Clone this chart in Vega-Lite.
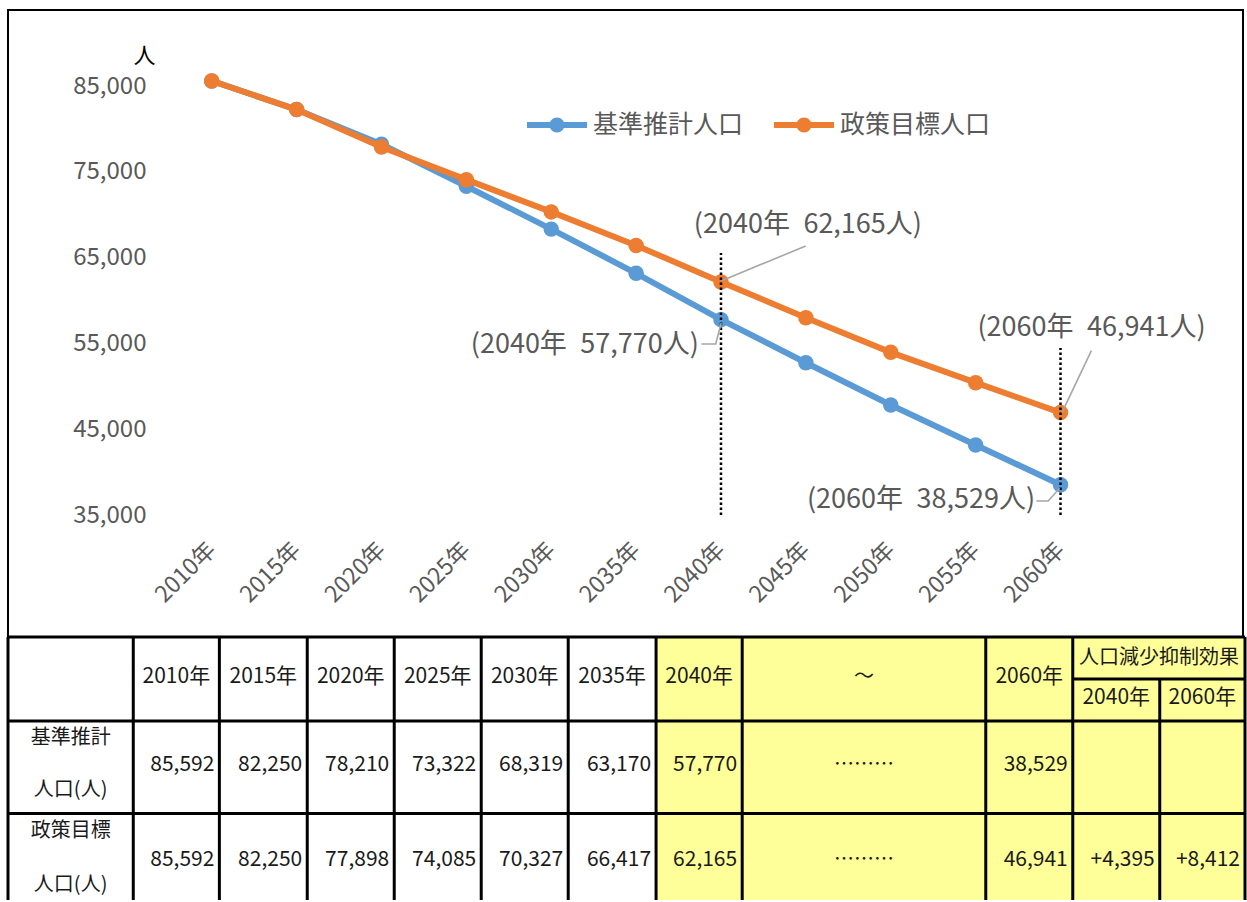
{
  "$schema": "https://vega.github.io/schema/vega-lite/v6.json",
  "padding": {"left": 6, "top": 9, "right": 0, "bottom": 0},
  "background": "white",
  "spacing": 0,
  "bounds": "flush",
  "config": {
    "font": "Noto Sans CJK JP",
    "view": {"stroke": null},
    "axis": {"labelFont": "Noto Sans CJK JP", "titleFont": "Noto Sans CJK JP"},
    "legend": {"labelFont": "Noto Sans CJK JP"}
  },
  "datasets": {
    "pop": [
      {"year": 2010, "series": "基準推計人口", "value": 85592},
      {"year": 2015, "series": "基準推計人口", "value": 82250},
      {"year": 2020, "series": "基準推計人口", "value": 78210},
      {"year": 2025, "series": "基準推計人口", "value": 73322},
      {"year": 2030, "series": "基準推計人口", "value": 68319},
      {"year": 2035, "series": "基準推計人口", "value": 63170},
      {"year": 2040, "series": "基準推計人口", "value": 57770},
      {"year": 2045, "series": "基準推計人口", "value": 52750},
      {"year": 2050, "series": "基準推計人口", "value": 47820},
      {"year": 2055, "series": "基準推計人口", "value": 43160},
      {"year": 2060, "series": "基準推計人口", "value": 38529},
      {"year": 2010, "series": "政策目標人口", "value": 85592},
      {"year": 2015, "series": "政策目標人口", "value": 82250},
      {"year": 2020, "series": "政策目標人口", "value": 77898},
      {"year": 2025, "series": "政策目標人口", "value": 74085},
      {"year": 2030, "series": "政策目標人口", "value": 70327},
      {"year": 2035, "series": "政策目標人口", "value": 66417},
      {"year": 2040, "series": "政策目標人口", "value": 62165},
      {"year": 2045, "series": "政策目標人口", "value": 58000},
      {"year": 2050, "series": "政策目標人口", "value": 53960},
      {"year": 2055, "series": "政策目標人口", "value": 50420},
      {"year": 2060, "series": "政策目標人口", "value": 46941}
    ],
    "grid": [
      {"value": 35000}, {"value": 45000}, {"value": 55000},
      {"value": 65000}, {"value": 75000}, {"value": 85000}
    ],
    "drop": [
      {"year": 2040, "value": 35000, "top": 65536},
      {"year": 2060, "value": 35000, "top": 54464}
    ],
    "leader": [
      {"id": "a", "year": 2044.99, "value": 66352},
      {"id": "a", "year": 2040.04, "value": 62308},
      {"id": "b", "year": 2038.85, "value": 54930},
      {"id": "b", "year": 2039.69, "value": 54930},
      {"id": "b", "year": 2040.01, "value": 57378},
      {"id": "c", "year": 2061.82, "value": 54149},
      {"id": "c", "year": 2060.09, "value": 46970},
      {"id": "d", "year": 2058.58, "value": 36632},
      {"id": "d", "year": 2059.27, "value": 36632},
      {"id": "d", "year": 2059.95, "value": 38112}
    ],
    "annL": [
      {"year": 2038.4, "value": 68800, "t": "(2040年\u200262,165人)"},
      {"year": 2055.11, "value": 56795, "t": "(2060年\u200246,941人)"}
    ],
    "annR": [
      {"year": 2038.7, "value": 54814, "t": "(2040年\u200257,770人)"},
      {"year": 2058.5, "value": 36716, "t": "(2060年\u200238,529人)"}
    ],
    "yellow": [{"x": 7.45, "x2": 14.22, "y": 0, "y2": 3.13}],
    "hlines": [
      {"y": 0, "x": 0, "x2": 14.22},
      {"y": 0.5, "x": 12.24, "x2": 14.22},
      {"y": 1, "x": 0, "x2": 14.22},
      {"y": 2.1, "x": 0, "x2": 14.22}
    ],
    "vlines": [
      {"x": 0, "y": 0, "y2": 3.13},
      {"x": 1.44, "y": 0, "y2": 3.13},
      {"x": 2.43, "y": 0, "y2": 3.13},
      {"x": 3.44, "y": 0, "y2": 3.13},
      {"x": 4.44, "y": 0, "y2": 3.13},
      {"x": 5.44, "y": 0, "y2": 3.13},
      {"x": 6.44, "y": 0, "y2": 3.13},
      {"x": 7.45, "y": 0, "y2": 3.13},
      {"x": 8.44, "y": 0, "y2": 3.13},
      {"x": 11.24, "y": 0, "y2": 3.13},
      {"x": 12.24, "y": 0, "y2": 3.13},
      {"x": 13.24, "y": 0.5, "y2": 3.13},
      {"x": 14.22, "y": 0, "y2": 3.13}
    ],
    "tHead": [
      {"x": 1.935, "y": 0.48, "t": "2010年"},
      {"x": 2.935, "y": 0.48, "t": "2015年"},
      {"x": 3.94, "y": 0.48, "t": "2020年"},
      {"x": 4.94, "y": 0.48, "t": "2025年"},
      {"x": 5.94, "y": 0.48, "t": "2030年"},
      {"x": 6.945, "y": 0.48, "t": "2035年"},
      {"x": 7.945, "y": 0.48, "t": "2040年"},
      {"x": 11.74, "y": 0.48, "t": "2060年"},
      {"x": 12.74, "y": 0.73, "t": "2040年"},
      {"x": 13.73, "y": 0.73, "t": "2060年"}
    ],
    "tCjk": [
      {"x": 0.72, "y": 1.2, "t": "基準推計"},
      {"x": 0.72, "y": 1.82, "t": "人口(人)"},
      {"x": 0.72, "y": 2.31, "t": "政策目標"},
      {"x": 0.72, "y": 2.95, "t": "人口(人)"},
      {"x": 13.23, "y": 0.25, "t": "人口減少抑制効果"},
      {"x": 9.84, "y": 0.48, "t": "～"},
      {"x": 9.84, "y": 1.52, "t": "………"},
      {"x": 9.84, "y": 2.65, "t": "………"}
    ],
    "tNum": [
      {"x": 2.43, "y": 1.52, "t": "85,592"},
      {"x": 3.44, "y": 1.52, "t": "82,250"},
      {"x": 4.44, "y": 1.52, "t": "78,210"},
      {"x": 5.44, "y": 1.52, "t": "73,322"},
      {"x": 6.44, "y": 1.52, "t": "68,319"},
      {"x": 7.45, "y": 1.52, "t": "63,170"},
      {"x": 8.44, "y": 1.52, "t": "57,770"},
      {"x": 12.24, "y": 1.52, "t": "38,529"},
      {"x": 2.43, "y": 2.65, "t": "85,592"},
      {"x": 3.44, "y": 2.65, "t": "82,250"},
      {"x": 4.44, "y": 2.65, "t": "77,898"},
      {"x": 5.44, "y": 2.65, "t": "74,085"},
      {"x": 6.44, "y": 2.65, "t": "70,327"},
      {"x": 7.45, "y": 2.65, "t": "66,417"},
      {"x": 8.44, "y": 2.65, "t": "62,165"},
      {"x": 12.24, "y": 2.65, "t": "46,941"},
      {"x": 13.24, "y": 2.65, "t": "+4,395"},
      {"x": 14.22, "y": 2.65, "t": "+8,412"}
    ]
  },
  "vconcat": [
    {
      "width": 1235,
      "height": 627,
      "view": {"stroke": "#000000", "strokeWidth": 2, "fill": "white"},
      "encoding": {
        "x": {
          "field": "year", "type": "quantitative",
          "scale": {"domain": [1998, 2070.75], "nice": false, "zero": false},
          "axis": {
            "orient": "bottom", "offset": -122,
            "values": [2010, 2015, 2020, 2025, 2030, 2035, 2040, 2045, 2050, 2055, 2060],
            "labelExpr": "datum.value + '年'",
            "labelAngle": -45, "labelAlign": "right", "labelBaseline": "middle",
            "labelPadding": 31, "labelFontSize": 23, "labelColor": "#595959",
            "domain": false, "ticks": false, "grid": false, "title": null,
            "labelOverlap": false, "labelFlush": false, "labelBound": false
          }
        },
        "y": {
          "field": "value", "type": "quantitative",
          "scale": {"domain": [20781, 93858], "nice": false, "zero": false},
          "axis": {
            "orient": "left", "offset": -138,
            "values": [35000, 45000, 55000, 65000, 75000, 85000],
            "format": ",d", "labelFontSize": 24, "labelColor": "#595959",
            "labelPadding": 0, "ticks": false, "domain": false, "grid": false,
            "title": "人", "titleAngle": 0, "titleX": -2, "titleY": 45,
            "titleAlign": "center", "titleBaseline": "middle", "titleFontSize": 22,
            "titleFontWeight": "normal", "titleColor": "#000000",
            "labelOverlap": false, "labelFlush": false
          }
        },
        "color": {
          "field": "series", "type": "nominal",
          "scale": {"domain": ["基準推計人口", "政策目標人口"], "range": ["#5B9BD5", "#ED7D31"]},
          "legend": {
            "orient": "none", "legendX": 519, "legendY": 85, "direction": "horizontal",
            "title": null,
            "symbolType": "M-1,-0.1L1,-0.1L1,0.1L-1,0.1Z M-0.25,0A0.25,0.25 0 1,1 0.25,0A0.25,0.25 0 1,1 -0.25,0Z",
            "symbolSize": 3600, "symbolStrokeWidth": 0, "symbolOpacity": 1,
            "labelFontSize": 25, "labelColor": "#595959", "labelOffset": 6,
            "columnPadding": 30, "padding": 0, "labelLimit": 400,
            "encode": {
              "symbols": {
                "update": {
                  "fill": {"scale": "color", "field": "value"},
                  "stroke": {"value": "transparent"},
                  "opacity": {"value": 1},
                  "fillOpacity": {"value": 1}
                }
              }
            }
          }
        }
      },
      "layer": [
        {
          "data": {"name": "grid"},
          "mark": {"type": "rule", "color": "#d9d9d9", "strokeWidth": 2},
          "encoding": {"x": {"datum": 2007.5}, "x2": {"datum": 2062.5}, "color": {"value": "#d9d9d9"}}
        },
        {
          "data": {"name": "pop"},
          "transform": [{"filter": "datum.series === '基準推計人口'"}],
          "mark": {"type": "point", "filled": true, "size": 240, "opacity": 1}
        },
        {
          "data": {"name": "pop"},
          "transform": [{"filter": "datum.series === '基準推計人口'"}],
          "mark": {"type": "line", "strokeWidth": 6}
        },
        {
          "data": {"name": "pop"},
          "transform": [{"filter": "datum.series === '政策目標人口'"}],
          "mark": {"type": "point", "filled": true, "size": 240, "opacity": 1}
        },
        {
          "data": {"name": "pop"},
          "transform": [{"filter": "datum.series === '政策目標人口'"}],
          "mark": {"type": "line", "strokeWidth": 6}
        },
        {
          "data": {"name": "drop"},
          "mark": {"type": "rule", "color": "#000000", "strokeWidth": 2.5, "strokeDash": [2.5, 2.5]},
          "encoding": {"y2": {"field": "top"}, "color": {"value": "#000000"}}
        },
        {
          "data": {"name": "leader"},
          "mark": {"type": "line", "color": "#a6a6a6", "strokeWidth": 1.6},
          "encoding": {"detail": {"field": "id"}, "color": {"value": "#a6a6a6"}}
        },
        {
          "data": {"name": "annL"},
          "mark": {"type": "text", "align": "left", "baseline": "middle", "fontSize": 27, "color": "#595959"},
          "encoding": {"text": {"field": "t"}, "color": {"value": "#595959"}}
        },
        {
          "data": {"name": "annR"},
          "mark": {"type": "text", "align": "right", "baseline": "middle", "fontSize": 27, "color": "#595959"},
          "encoding": {"text": {"field": "t"}, "color": {"value": "#595959"}}
        }
      ]
    },
    {
      "width": 1237,
      "height": 263,
      "view": {"stroke": null},
      "encoding": {
        "x": {"field": "x", "type": "quantitative", "scale": {"domain": [0, 14.22], "nice": false, "zero": false}, "axis": null},
        "y": {"field": "y", "type": "quantitative", "scale": {"domain": [0, 3.13], "nice": false, "zero": false, "reverse": true}, "axis": null}
      },
      "layer": [
        {
          "data": {"name": "yellow"},
          "mark": {"type": "rect", "color": "#FFFF99", "opacity": 1},
          "encoding": {"x2": {"field": "x2"}, "y2": {"field": "y2"}}
        },
        {
          "data": {"name": "hlines"},
          "mark": {"type": "rule", "color": "#000000", "strokeWidth": 3},
          "encoding": {"x2": {"field": "x2"}}
        },
        {
          "data": {"name": "vlines"},
          "mark": {"type": "rule", "color": "#000000", "strokeWidth": 3},
          "encoding": {"y2": {"field": "y2"}}
        },
        {
          "data": {"name": "tHead"},
          "mark": {"type": "text", "align": "center", "baseline": "middle", "fontSize": 21, "font": "Noto Sans CJK JP", "color": "#1a1a1a"},
          "encoding": {"text": {"field": "t"}}
        },
        {
          "data": {"name": "tCjk"},
          "mark": {"type": "text", "align": "center", "baseline": "middle", "fontSize": 20, "font": "Noto Sans CJK JP", "color": "#1a1a1a"},
          "encoding": {"text": {"field": "t"}}
        },
        {
          "data": {"name": "tNum"},
          "mark": {"type": "text", "align": "right", "baseline": "middle", "dx": -5, "fontSize": 21, "font": "Noto Sans CJK JP", "color": "#1a1a1a"},
          "encoding": {"text": {"field": "t"}}
        }
      ]
    }
  ]
}
